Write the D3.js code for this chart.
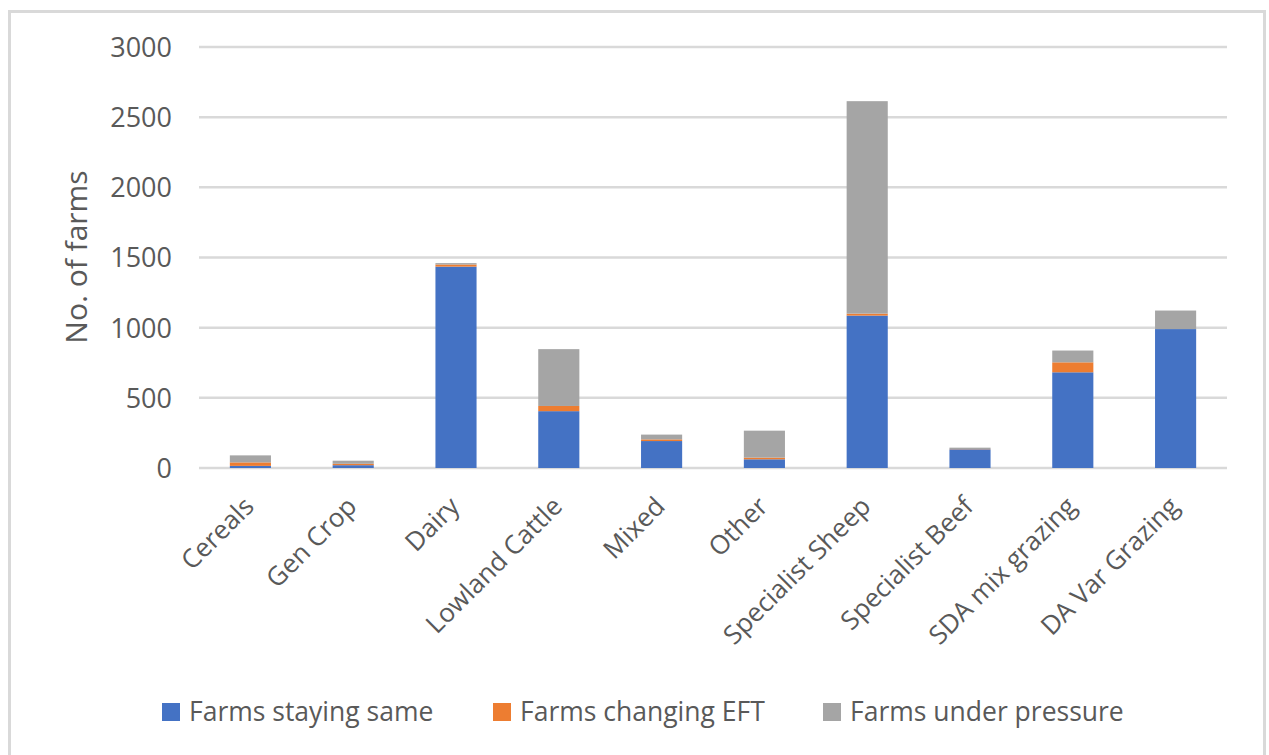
<!DOCTYPE html>
<html>
<head>
<meta charset="utf-8">
<script src="https://cdn.jsdelivr.net/npm/d3@7"></script>
<style>
  body { margin: 0; background: #fff; }
  svg text { font-family: 'Open Sans', sans-serif; fill: #595959; }
</style>
</head>
<body>
<div id="root"></div>
<script>
const categories = ['Cereals', 'Gen Crop', 'Dairy', 'Lowland Cattle', 'Mixed', 'Other',
    'Specialist Sheep', 'Specialist Beef', 'SDA mix grazing', 'DA Var Grazing'];
const staying = [15, 20, 1435, 405, 192, 62, 1086, 133, 682, 990];
const changing = [25, 10, 15, 37, 12, 12, 14, 2, 71, 0];
const pressure = [50, 22, 10, 405, 34, 192, 1514, 10, 84, 132];
const seriesNames = ['Farms staying same', 'Farms changing EFT', 'Farms under pressure'];
const colors = ['#4472C4', '#ED7D31', '#A5A5A5'];
const yTicks = [0, 500, 1000, 1500, 2000, 2500, 3000];

const width = 1269;
const height = 755;

const rows = categories.map((c, i) => ({
    cat: c, s0: staying[i], s1: changing[i], s2: pressure[i],
}));
const stack = d3.stack().keys(['s0', 's1', 's2'])(rows);

const svg = d3.select('#root')
    .append('svg')
    .attr('width', width)
    .attr('height', height);

// outer chart border
svg.append('rect')
    .attr('x', 9.5)
    .attr('y', 11.5)
    .attr('width', 1255)
    .attr('height', 760)
    .attr('fill', 'none')
    .attr('stroke', '#D9D9D9')
    .attr('stroke-width', 3);

const x = d3.scaleBand()
    .domain(categories)
    .range([199, 1227])
    .paddingInner(0.6)
    .paddingOuter(0.3);

const y = d3.scaleLinear()
    .domain([0, 3000])
    .range([468, 47]);

// gridlines
svg.append('g')
    .selectAll('line')
    .data(yTicks)
    .join('line')
    .attr('x1', 199)
    .attr('x2', 1227)
    .attr('y1', d => y(d))
    .attr('y2', d => y(d))
    .attr('stroke', '#D9D9D9')
    .attr('stroke-width', 2.5);

// y axis labels
const yAxis = svg.append('g')
    .attr('transform', 'translate(172,0)')
    .call(d3.axisLeft(y).tickValues(yTicks).tickFormat(d3.format('d')).tickSize(0).tickPadding(0));
yAxis.select('.domain').remove();
yAxis.selectAll('text')
    .style('font-size', '27px')
    .attr('fill', '#595959')
    .attr('dy', '0.35em');

// bars
svg.append('g')
    .selectAll('g')
    .data(stack)
    .join('g')
    .attr('fill', (d, i) => colors[i])
    .selectAll('rect')
    .data(d => d)
    .join('rect')
    .attr('x', d => x(d.data.cat))
    .attr('width', x.bandwidth())
    .attr('y', d => y(d[1]))
    .attr('height', d => y(d[0]) - y(d[1]));

// x axis labels
const xAxis = svg.append('g')
    .attr('transform', 'translate(0,468)')
    .call(d3.axisBottom(x).tickSize(0).tickPadding(0));
xAxis.select('.domain').remove();
xAxis.selectAll('text')
    .style('font-size', '26px')
    .attr('fill', '#595959')
    .attr('text-anchor', 'end')
    .attr('dy', null)
    .attr('y', 0)
    .attr('transform', 'translate(5,40) rotate(-45)');

// y axis title
svg.append('text')
    .attr('transform', 'translate(87,257) rotate(-90)')
    .attr('text-anchor', 'middle')
    .style('font-size', '30px')
    .text('No. of farms');

// legend
const legendX = [162, 493, 823];
const legend = svg.append('g')
    .selectAll('g')
    .data(seriesNames)
    .join('g')
    .attr('transform', (d, i) => `translate(${legendX[i]},712)`);
legend.append('rect')
    .attr('x', 0)
    .attr('y', -9)
    .attr('width', 18)
    .attr('height', 18)
    .attr('fill', (d, i) => colors[i]);
legend.append('text')
    .attr('x', 27)
    .attr('y', 0)
    .attr('dy', '0.35em')
    .style('font-size', '26.5px')
    .text(d => d);
</script>
</body>
</html>
